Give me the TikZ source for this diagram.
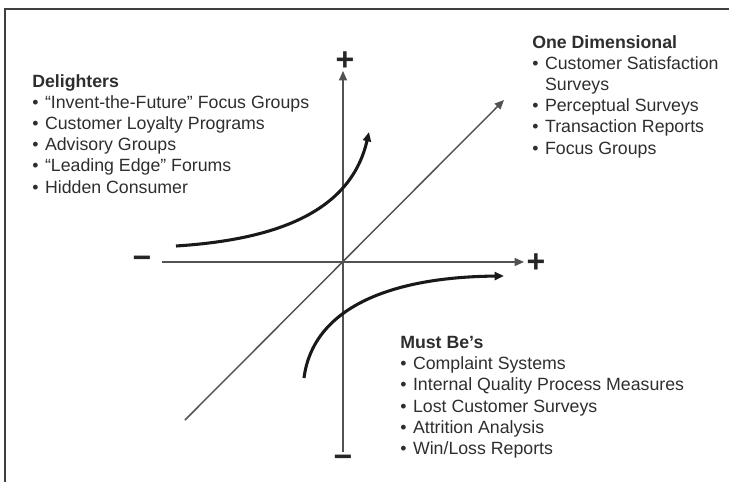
\documentclass[tikz,border=0pt]{standalone}
\usepackage{fontspec}
\setmainfont{Liberation Sans}
\usetikzlibrary{arrows.meta, positioning}

% bullet with a fixed indent
\newcommand\itm{\makebox[9.6pt][l]{•}}

\begin{document}
\begin{tikzpicture}[
  x=0.75pt, y=-0.75pt,
  >={Triangle[length=7pt, width=6pt]},
  axis/.style={line width=1.1pt, color=black!68},
  curve/.style={line width=2.3pt, color=black!90, ->},
  sign/.style={font=\fontsize{24}{24}\selectfont\bfseries, text=black!85, inner sep=0pt},
  group/.style={anchor=north west, align=left, inner sep=0pt, text=black!82,
    font=\fontsize{13.3}{15.9}\selectfont},
  frame/.style={line width=1.5pt, color=black!75}
]
\useasboundingbox (0,0) rectangle (729,482);

% Frame
\draw[frame] (5,482) -- (5,9) -- (729,9);

% Axis end points
\coordinate (O) at (343,262);
\coordinate (xl) at (162,262);
\coordinate (xr) at (524,262);
\coordinate (yb) at (343,452);
\coordinate (yt) at (343,71);
\coordinate (dl) at (185,420);
\coordinate (dr) at (504,100);

% Axes
\draw[axis, ->] (xl) -- (xr);
\draw[axis, ->] (yb) -- (yt);
\draw[axis, ->] (dl) -- (dr);

% Signs
\node[sign] (xminus) at (142,262) {−};
\node[sign] (xplus) at (536,263) {+};
\node[sign] (yplus) at (345,61) {+};
\node[sign] (yminus) at (343,461) {−};

% Curves
\coordinate (d0) at (176,246);
\coordinate (d1) at (369,132);
\draw[curve] (d0) .. controls (270,240) and (350,215) .. (d1);
\coordinate (m0) at (304,378);
\coordinate (m1) at (504,276);
\draw[curve] (m0) .. controls (313,308) and (390,277) .. (m1);

% Lists
\node[group] (delight) at (32,74) {%
  \textbf{Delighters}\\
  \itm“Invent-the-Future” Focus Groups\\
  \itm Customer Loyalty Programs\\
  \itm Advisory Groups\\
  \itm“Leading Edge” Forums\\
  \itm Hidden Consumer};
\node[group] (onedim) at (532,35) {%
  \textbf{One Dimensional}\\
  \itm Customer Satisfaction\\
  \hspace*{9.6pt}Surveys\\
  \itm Perceptual Surveys\\
  \itm Transaction Reports\\
  \itm Focus Groups};
\node[group] (mustbe) at (400,336) {%
  \textbf{Must Be’s}\\
  \itm Complaint Systems\\
  \itm Internal Quality Process Measures\\
  \itm Lost Customer Surveys\\
  \itm Attrition Analysis\\
  \itm Win/Loss Reports};

\end{tikzpicture}
\end{document}
